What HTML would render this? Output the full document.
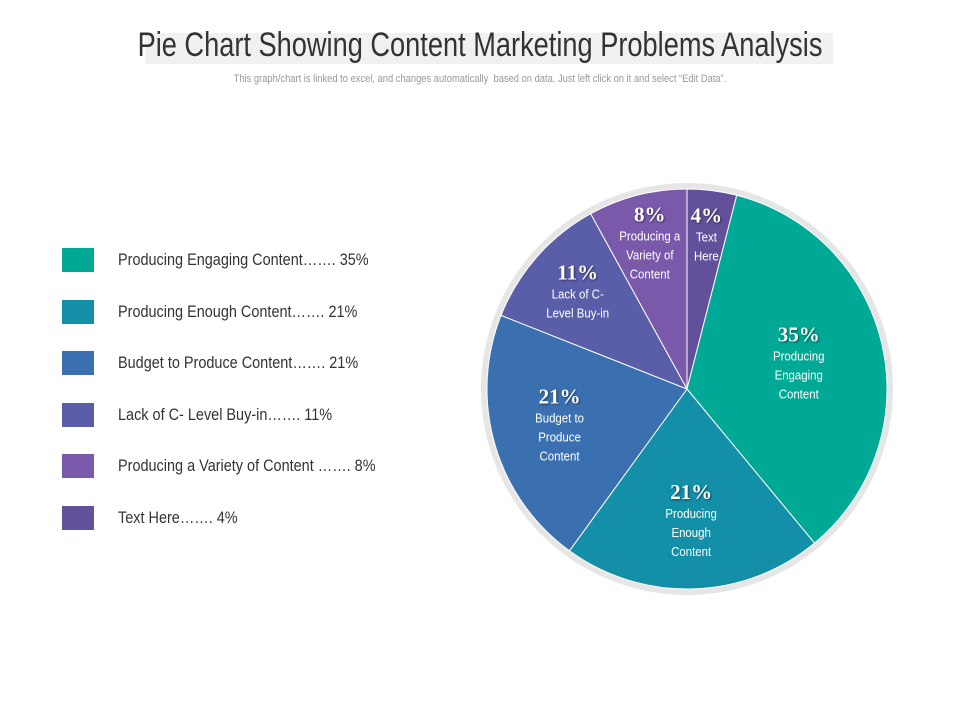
<!DOCTYPE html>
<html><head><meta charset="utf-8"><style>
body{margin:0;width:960px;height:720px;background:#fff;overflow:hidden;font-family:"Liberation Sans",sans-serif;position:relative}
.title{position:absolute;left:0;width:960px;top:26px;text-align:center;font-size:34px;color:#333;transform:scaleX(0.8);transform-origin:480px 0;white-space:nowrap}
.hl{position:absolute;left:145px;top:33px;width:688px;height:31px;background:#f1f1f1}
.sub{position:absolute;left:0;width:960px;top:73px;text-align:center;font-size:11px;color:#999;transform:scaleX(0.85);transform-origin:480px 0;white-space:nowrap}
.leg{position:absolute;left:62px;height:24px}
.sw{position:absolute;left:0;top:0;width:32px;height:24px}
.lt{position:absolute;left:56px;top:2px;font-size:17px;color:#333;white-space:nowrap;transform:scaleX(0.85);transform-origin:0 0}
</style></head><body>
<div class="hl"></div>
<div class="title">Pie Chart Showing Content Marketing Problems Analysis</div>
<div class="sub">This graph/chart is linked to excel, and changes automatically &nbsp;based on data. Just left click on it and select “Edit Data”.</div>
<div id="legend"></div>
<svg id="pie" width="960" height="720" style="position:absolute;left:0;top:0"></svg>
<script>
const categories=["Text Here","Producing Engaging Content","Producing Enough Content","Budget to Produce Content","Lack of C- Level Buy-in","Producing a Variety of Content"];
const values=[4,35,21,21,11,8];
const sliceLabels=[["Text","Here"],["Producing","Engaging","Content"],["Producing","Enough","Content"],["Budget to","Produce","Content"],["Lack of C-","Level Buy-in"],["Producing a","Variety of","Content"]];
const legendOrder=[1,2,3,4,5,0];
const legendText=["Text Here……. 4%","Producing Engaging Content……. 35%","Producing Enough Content……. 21%","Budget to Produce Content……. 21%","Lack of C- Level Buy-in……. 11%","Producing a Variety of Content ……. 8%"];
const colors=["#62509a","#00a896","#138fa8","#3b70b0","#5a5ea9","#7a58aa"];
const NS="http://www.w3.org/2000/svg";
const svg=document.getElementById('pie');
const cx=687,cy=389,R=200;
const total=values.reduce((a,b)=>a+b,0);
function pt(a,r){return [cx+r*Math.sin(a),cy-r*Math.cos(a)];}
const ring=document.createElementNS(NS,'circle');


ring.setAttribute('cx',cx);ring.setAttribute('cy',cy);ring.setAttribute('r',R+3);
ring.setAttribute('fill','none');ring.setAttribute('stroke','#e6e6e6');ring.setAttribute('stroke-width','6');
svg.appendChild(ring);
let acc=0;
values.forEach((v,i)=>{
  const a0=acc/total*2*Math.PI;acc+=v;const a1=acc/total*2*Math.PI;
  const p0=pt(a0,R),p1=pt(a1,R);
  const path=document.createElementNS(NS,'path');
  
  
  path.setAttribute('d',`M${cx},${cy}L${p0[0]},${p0[1]}A${R},${R} 0 ${a1-a0>Math.PI?1:0} 1 ${p1[0]},${p1[1]}Z`);
  path.setAttribute('fill',colors[i]);path.setAttribute('stroke','#fff');path.setAttribute('stroke-width','1');
  svg.appendChild(path);
  const am=(a0+a1)/2;const rr=160-1.3*v;const c=pt(am,rr);
  const lines=sliceLabels[i];
  const g=document.createElementNS(NS,'g');
  
  
  const h=24+lines.length*19;let y=c[1]-h/2+18;
  const t=document.createElementNS(NS,'text');
  
  
  t.setAttribute('x',c[0]);t.setAttribute('y',y);t.setAttribute('text-anchor','middle');
  t.setAttribute('font-family','Liberation Serif, serif');t.setAttribute('font-weight','bold');t.setAttribute('font-size','21');t.setAttribute('fill','#fff');
  t.setAttribute('style','text-shadow:1px 1px 2px rgba(0,0,0,0.5)');
  t.textContent=v+'%';g.appendChild(t);
  y+=19;
  lines.forEach(l=>{
    const d=document.createElementNS(NS,'text');
    
    
    d.setAttribute('x',c[0]);d.setAttribute('y',y);d.setAttribute('text-anchor','middle');
    d.setAttribute('font-size','13');d.setAttribute('fill','#fff');
    d.setAttribute('transform',`translate(${c[0]*0.12},0) scale(0.88,1)`);
    d.textContent=l;g.appendChild(d);y+=19;
  });
  svg.appendChild(g);
});
const leg=document.getElementById('legend');
legendOrder.forEach((idx,k)=>{
  const e=document.createElement('div');
  
  
  e.className='leg';e.style.top=(248+k*51.5)+'px';
  const s=document.createElement('div');
  
  
  s.className='sw';s.style.background=colors[idx];
  const t=document.createElement('div');
  
  
  t.className='lt';t.textContent=legendText[idx];
  e.appendChild(s);e.appendChild(t);leg.appendChild(e);
});
</script>
</body></html>
